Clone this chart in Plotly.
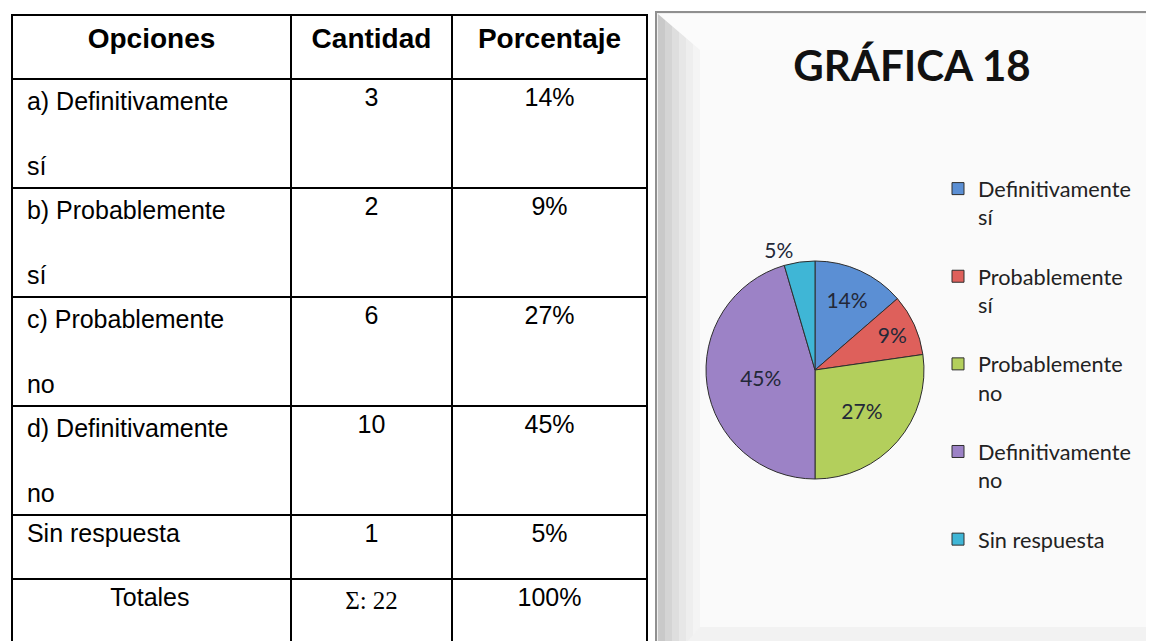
import plotly.graph_objects as go

# ---------------- data ----------------
categories = ["Definitivamente sí", "Probablemente sí", "Probablemente no",
              "Definitivamente no", "Sin respuesta"]
option_prefix = ["a) ", "b) ", "c) ", "d) ", ""]
quantities = [3, 2, 6, 10, 1]
percent_labels = ["14%", "9%", "27%", "45%", "5%"]
total_label = "Totales"
total_percent = "100%"
header_labels = ["Opciones", "Cantidad", "Porcentaje"]
chart_title = "GRÁFICA 18"

slice_colors = ["#5B8FD4", "#DE605B", "#B3CF5C", "#9C82C6", "#3FB6D6"]

W, H = 1154, 641
OFF = 8  # page body margin


def px(x):
    return (x - OFF) / W


def py(y):
    return 1 - (y - OFF) / H


# ---------------- table cells ----------------
NB = "\u00a0"


def wrap_option(txt):
    if len(txt) > 15:
        head, tail = txt.rsplit(" ", 1)
        return NB + head + "<br> <br>" + NB + tail
    return NB + txt


opt_cells = [wrap_option(p + c) for p, c in zip(option_prefix, categories)] + [NB * 13 + total_label]
qty_cells = [str(q) for q in quantities] + [
    "<span style='font-family:serif'>Σ:" + NB + "%d</span><br>" % sum(quantities)]
pct_cells = percent_labels + [total_percent]

fig = go.Figure()

fig.add_trace(go.Table(
    domain=dict(x=[px(12), px(647)], y=[0, py(15)]),
    columnwidth=[279, 161, 195],
    header=dict(
        values=["<b>%s</b>" % h for h in header_labels],
        align="center",
        height=64,
        fill_color="white",
        line=dict(color="black", width=2),
        font=dict(family="Liberation Sans, Arial, sans-serif", size=28, color="black"),
    ),
    cells=dict(
        values=[opt_cells, qty_cells, pct_cells],
        align=["left", "center", "center"],
        height=64,
        fill_color="white",
        line=dict(color="black", width=2),
        font=dict(family="Liberation Sans, Arial, sans-serif", size=25, color="black"),
    ),
))

# ---------------- pie ----------------
legend_names = [c.rsplit(" ", 1)[0] + "<br>" + c.rsplit(" ", 1)[1] + "<br> "
                if " " in c and len(c) > 15 else c for c in categories]

cx, cy, R = 815, 370, 109
fig.add_trace(go.Pie(
    labels=legend_names,
    values=quantities,
    text=percent_labels,
    textinfo="text",
    textposition=["inside", "inside", "inside", "inside", "outside"],
    insidetextorientation="horizontal",
    sort=False,
    direction="clockwise",
    rotation=0,
    marker=dict(colors=slice_colors, line=dict(color="#2e2e2e", width=1)),
    textfont=dict(family="Lato, sans-serif", size=21, color="#232838"),
    domain=dict(x=[px(cx - R), px(cx + R)], y=[py(cy + R), py(cy - R)]),
    hoverinfo="label+value+percent",
))

# ---------------- decorative frame of the chart image ----------------
shapes = []
shapes.append(dict(type="rect", xref="paper", yref="paper",
                   x0=px(656), x1=px(1170), y0=py(660), y1=py(12),
                   fillcolor="#efefef", line=dict(color="#8f8f8f", width=2), layer="below"))
left_cols = ["#c9c9c9", "#d4d4d4", "#dedede", "#e7e7e7", "#eeeeee", "#f4f4f4"]
for i, col in enumerate(left_cols):
    shapes.append(dict(type="rect", xref="paper", yref="paper",
                       x0=px(658 + i * 7), x1=px(658 + (i + 1) * 7), y0=py(650), y1=py(14),
                       fillcolor=col, line=dict(width=0), layer="below"))
shapes.append(dict(type="path", xref="paper", yref="paper",
                   path="M %f %f L %f %f L %f %f L %f %f Z" % (
                       px(658), py(14), px(1162), py(14), px(1162), py(50), px(700), py(50)),
                   fillcolor="#fbfbfb", line=dict(width=0), layer="below"))
shapes.append(dict(type="rect", xref="paper", yref="paper",
                   x0=px(700), x1=px(1162), y0=py(627), y1=py(50),
                   fillcolor="#fafafa", line=dict(width=0), layer="below"))
shapes.append(dict(type="path", xref="paper", yref="paper",
                   path="M %f %f L %f %f L %f %f L %f %f Z" % (
                       px(700), py(627), px(1162), py(627), px(1162), py(650), px(680), py(650)),
                   fillcolor="#f2f2f2", line=dict(width=0), layer="below"))

fig.update_layout(
    width=W, height=H,
    margin=dict(l=0, r=0, t=0, b=0),
    paper_bgcolor="white",
    plot_bgcolor="white",
    shapes=shapes,
    title=dict(text="<b>%s</b>" % chart_title, x=px(912), y=py(66),
               xref="paper", yref="paper", xanchor="center", yanchor="middle",
               font=dict(family="Lato, sans-serif", size=42, color="#111111")),
    showlegend=True,
    legend=dict(x=px(938), y=py(168), xanchor="left", yanchor="top",
                bgcolor="rgba(0,0,0,0)", valign="top",
                font=dict(family="Lato, sans-serif", size=21.7, color="#222222"),
                itemwidth=30),
)

fig.write_html("out.html")
